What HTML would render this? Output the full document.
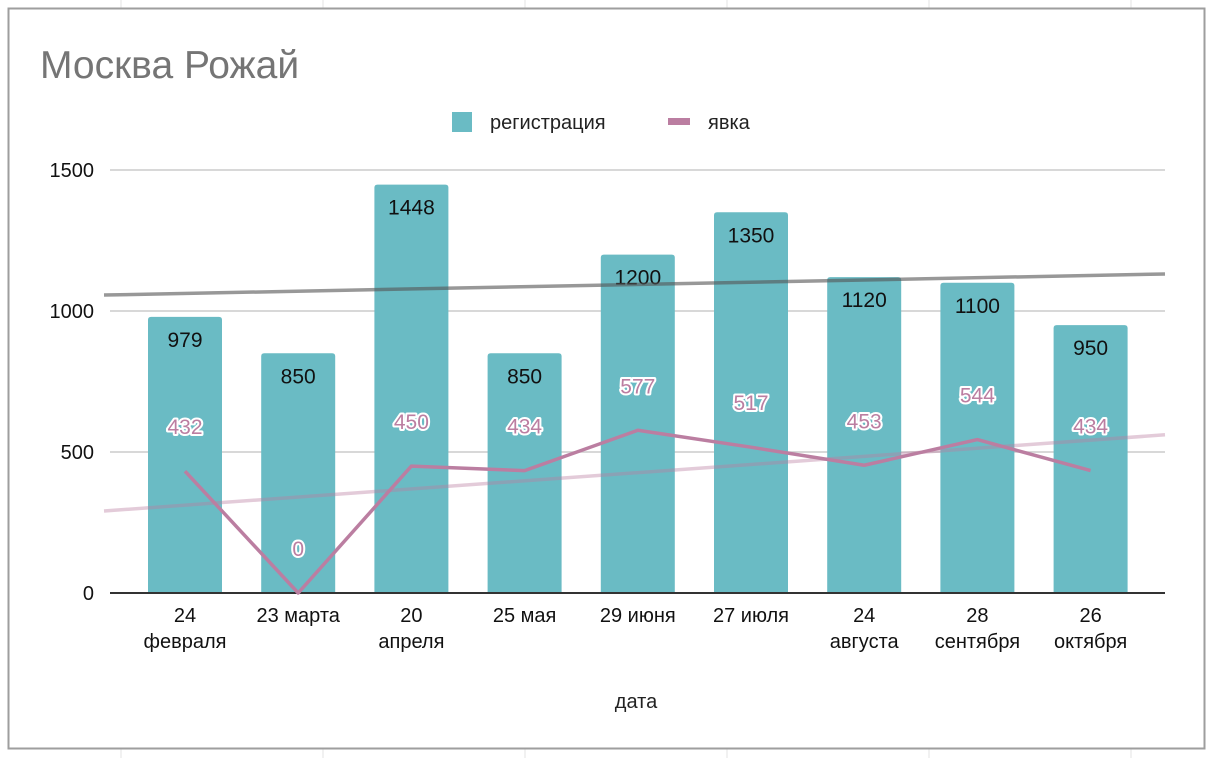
<!DOCTYPE html>
<html><head><meta charset="utf-8"><style>
body{margin:0;background:#fff;font-family:"Liberation Sans",Arial,sans-serif;}
svg{display:block}
</style></head><body>
<svg id="c" width="1212" height="758" xmlns="http://www.w3.org/2000/svg" font-family="Liberation Sans, Arial, sans-serif">
<g stroke="#e3e3e3" stroke-width="1">
<line x1="121" y1="0" x2="121" y2="8"/><line x1="323" y1="0" x2="323" y2="8"/><line x1="525" y1="0" x2="525" y2="8"/><line x1="727" y1="0" x2="727" y2="8"/><line x1="929" y1="0" x2="929" y2="8"/><line x1="1131" y1="0" x2="1131" y2="8"/>
<line x1="121" y1="748" x2="121" y2="758"/><line x1="323" y1="748" x2="323" y2="758"/><line x1="525" y1="748" x2="525" y2="758"/><line x1="727" y1="748" x2="727" y2="758"/><line x1="929" y1="748" x2="929" y2="758"/><line x1="1131" y1="748" x2="1131" y2="758"/>
</g>
<rect x="8.5" y="8.5" width="1196" height="740" fill="#fff" stroke="#9e9e9e" stroke-width="2"/>
<text x="40" y="78" font-size="39" fill="#757575">Москва Рожай</text>
<rect x="452" y="112" width="20" height="20" fill="#6abbc4"/>
<text x="490" y="129" font-size="20" fill="#222">регистрация</text>
<rect x="668" y="118" width="22" height="7" fill="#bb7ea1"/>
<text x="708" y="129" font-size="20" fill="#222">явка</text>
<text x="636" y="708" font-size="20" fill="#222" text-anchor="middle">дата</text>
<g id="plot"></g>
</svg>
<script>
const categories=[["24","февраля"],["23 марта"],["20","апреля"],["25 мая"],["29 июня"],["27 июля"],["24","августа"],["28","сентября"],["26","октября"]];
const registration=[979,850,1448,850,1200,1350,1120,1100,950];
const attendance=[432,0,450,434,577,517,453,544,434];
const yTicks=[0,500,1000,1500];
const NS="http://www.w3.org/2000/svg";
const g=document.getElementById('plot');
const X0=110,X1=1165,Y0=593,Y1500=170;
const yS=v=>Y0-(v/1500)*(Y0-Y1500);
const step=113.2;
const xS=i=>185+step*i;
function mk(t,a){const e=document.createElementNS(NS,t);for(const k in a)e.setAttribute(k,a[k]);g.appendChild(e);return e;}
yTicks.forEach(v=>{
 if(v>0){const l=mk('line',{x1:X0,x2:X1,y1:yS(v),y2:yS(v),stroke:'#cccccc','stroke-width':1.5});
 
 }
 const t=mk('text',{x:94,y:yS(v)+7,'font-size':20,fill:'#111','text-anchor':'end'});t.textContent=v;
 
 
});
const bw=74;
registration.forEach((v,i)=>{
 const x=xS(i)-bw/2,y=yS(v);
 const p=mk('path',{d:`M${x},${Y0}V${y+3}Q${x},${y} ${x+3},${y}H${x+bw-3}Q${x+bw},${y} ${x+bw},${y+3}V${Y0}Z`,fill:'#6abbc4'});
 
 
 const t=mk('text',{x:xS(i),y:y+30,'font-size':21,fill:'#111','text-anchor':'middle'});t.textContent=v;
 
 
});
function trend(arr){const n=arr.length;let sx=0,sy=0,sxx=0,sxy=0;arr.forEach((v,i)=>{sx+=i;sy+=v;sxx+=i*i;sxy+=i*v;});const b=(n*sxy-sx*sy)/(n*sxx-sx*sx);const a=(sy-b*sx)/n;return i=>a+b*i;}
const toIdx=x=>(x-185)/step;
const tr1=trend(registration),tr2=trend(attendance);
const xa=104,xb=1165;
let l1=mk('line',{x1:xa,x2:xb,y1:yS(tr1(toIdx(xa))),y2:yS(tr1(toIdx(xb))),stroke:'#555',opacity:0.6,'stroke-width':3.5});


let l2=mk('line',{x1:xa,x2:xb,y1:yS(tr2(toIdx(xa))),y2:yS(tr2(toIdx(xb))),stroke:'#bb7ea1',opacity:0.4,'stroke-width':3.5});


const ax=mk('line',{x1:X0,x2:X1,y1:Y0,y2:Y0,stroke:'#333','stroke-width':2});


const pl=mk('polyline',{points:attendance.map((v,i)=>xS(i)+','+yS(v)).join(' '),fill:'none',stroke:'#bb7ea1','stroke-width':3.5,'stroke-linejoin':'round'});


attendance.forEach((v,i)=>{
 const t=mk('text',{x:xS(i),y:yS(v)-37,'font-size':21,fill:'#bb7ea1',stroke:'#fff','stroke-width':4,'paint-order':'stroke','stroke-linejoin':'round','text-anchor':'middle'});t.textContent=v;
 
 
});
categories.forEach((c,i)=>{
 c.forEach((s,j)=>{const t=mk('text',{x:xS(i),y:622+j*26,'font-size':20,fill:'#111','text-anchor':'middle'});t.textContent=s;
 
 });
});
</script>
</body></html>
